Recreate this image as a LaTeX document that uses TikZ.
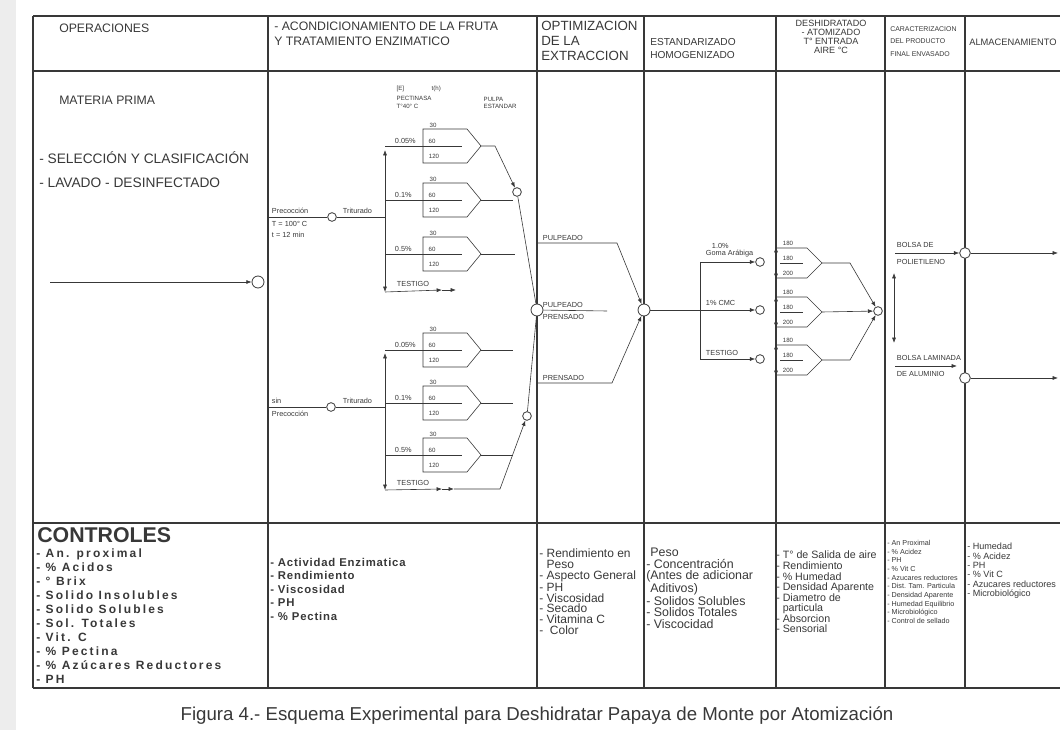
\documentclass[tikz,border=0pt]{standalone}
\usepackage{fontspec}
\setmainfont{Liberation Sans}
\newfontfamily\ctrlfont[LetterSpace=18]{Liberation Sans}
\newfontfamily\ctrlfontb[LetterSpace=7]{Liberation Sans}
\usetikzlibrary{arrows.meta}
\definecolor{ink}{gray}{0.22}

\begin{document}
\begin{tikzpicture}[x=0.75pt,y=0.75pt,yscale=-1,
  every node/.style={text=ink},
  frame/.style={draw=ink,line width=0.8pt},
  flow/.style={draw=ink,line width=0.45pt},
  arr/.style={flow,-{Latex[length=4pt,width=3pt]}},
  junc/.style={circle,draw=ink,fill=white,line width=0.6pt,inner sep=0pt,minimum size=8pt},
  smalljunc/.style={junc,minimum size=6.5pt},
  head/.style={anchor=north west,inner sep=0.75pt,align=left,font=\fontsize{9.2}{11.2}\selectfont},
  lbl/.style={anchor=west,inner sep=0.5pt,font=\fontsize{5.5}{6}\selectfont},
  num/.style={inner sep=0.3pt,font=\fontsize{4.6}{5}\selectfont},
  ctrl/.style={anchor=north west,inner sep=0pt,align=left}
]
\useasboundingbox (0,0) rectangle (1060,730);
%scanned page edge
\fill[black!7] (0,0) rectangle (16,730);

%Table frame
\foreach \ry in {16,71,523,688}
  \draw[frame] (33,\ry) -- (1060,\ry);
\foreach \cx in {33,268,537,644,776,885,965}
  \draw[frame] (\cx,16) -- (\cx,688);

% Header nodes
\node[head] (hop) at (58,23) {OPERACIONES};
\node[head] (hac) at (273,21) {- ACONDICIONAMIENTO DE LA FRUTA\\Y TRATAMIENTO ENZIMATICO};
\node[head,font=\fontsize{10}{11.2}\selectfont] (hopt) at (540,20) {OPTIMIZACION\\DE LA\\EXTRACCION};
\node[head,font=\fontsize{7.6}{9.8}\selectfont] (hest) at (649,37) {ESTANDARIZADO\\HOMOGENIZADO};
\node[head,anchor=north,align=center,font=\fontsize{6.8}{6.8}\selectfont] (hdes) at (831,19) {DESHIDRATADO\\- ATOMIZADO\\T° ENTRADA\\AIRE °C};
\node[head,font=\fontsize{5.2}{9.4}\selectfont] (hcar) at (889,25) {CARACTERIZACION\\DEL PRODUCTO\\FINAL ENVASADO};
\node[head,font=\fontsize{7}{8}\selectfont] (halm) at (968,38) {ALMACENAMIENTO};

% Operations column
\node[head] (hmp) at (58,95) {MATERIA PRIMA};
\node[head,font=\fontsize{10.3}{12}\selectfont] (hsel) at (38,150) {- SELECCIÓN Y CLASIFICACIÓN};
\node[head,font=\fontsize{10.3}{12}\selectfont] (hlav) at (38,177) {- LAVADO - DESINFECTADO};
\coordinate (mpin) at (50,282);
\node[junc,minimum size=9pt] (mp) at (258,282) {};
\draw[arr] (mpin) -- (mp);

% Enzymatic treatment: heading labels
\node[num,anchor=west] (le) at (396,89) {[E]};
\node[num,anchor=west] (lpec) at (396,98) {PECTINASA};
\node[num,anchor=west] (ltemp) at (396,106) {T°40° C};
\node[num,anchor=west] (lth) at (431,89) {t(h)};
\node[num,anchor=west] (lpul) at (483,99) {PULPA};
\node[num,anchor=west] (lest) at (483,106) {ESTANDAR};

% with precooking
\coordinate (pre1) at (268,217);
\node[smalljunc] (c1) at (332,217) {};
\coordinate (r1t) at (385,150);
\coordinate (r1b) at (385,292);
\draw[flow] (pre1) -- (c1);
\draw[flow] (c1) -- (c1 -| r1t);
\draw[flow,{Latex[length=4pt,width=3pt]}-{Latex[length=4pt,width=3pt]}] (r1t) -- (r1b);
\node[lbl] (lpre1) at (271,211) {Precocción};
\node[lbl] (lt1) at (271,224) {T = 100° C};
\node[lbl] (lt2) at (271,235) {t = 12 min};
\node[lbl] (ltri1) at (342,211) {Triturado};

% without precooking
\coordinate (pre2) at (268,407);
\node[smalljunc] (c2) at (331,407) {};
\coordinate (r2t) at (385,353);
\coordinate (r2b) at (385,490);
\draw[flow] (pre2) -- (c2);
\draw[flow] (c2) -- (c2 -| r2t);
\draw[flow,{Latex[length=4pt,width=3pt]}-{Latex[length=4pt,width=3pt]}] (r2t) -- (r2b);
\node[lbl] (lsin) at (271,401) {sin};
\node[lbl] (lpre2) at (271,414) {Precocción};
\node[lbl] (ltri2) at (342,401) {Triturado};

% enzyme doses, times 30 / 60 / 120
\foreach \yc/\pc/\n in {146/0.05/a,200/0.1/b,254/0.5/c,350/0.05/d,403/0.1/e,455/0.5/f}{
  \draw[flow] (423,\yc-17) -- (467,\yc-17) -- (481,\yc) -- (467,\yc+17) -- (423,\yc+17) -- cycle;
  \draw[flow] (385,\yc) -- (462,\yc);
  \coordinate (t\n) at (481,\yc);
  \node[lbl] (p\n) at (394,\yc-5) {\pc\%};
  \node[num] (h30\n) at (433,\yc-21) {30};
  \node[num] (h60\n) at (432,\yc-5) {60};
  \node[num] (h120\n) at (434,\yc+10) {120};
}

% controls without enzyme
\node[lbl] (lv1) at (396,284) {TESTIGO};
\draw[arr] (r1b) -- (442,290);
\draw[arr] (442,290) -- (456,290);
\node[lbl] (lv2) at (396,483) {TESTIGO};
\draw[arr] (r2b -| r2t) -- (442,489);
\draw[arr] (442,489) -- (454,489);

% collecting the pulp
\node[smalljunc] (m1) at (517,192) {};
\node[smalljunc] (m2) at (527,416) {};
\draw[arr] (ta) -- (495,146) -- (m1);
\draw[flow] (tb) -- (513,200);
\draw[flow] (tc) -- (515,254);
\draw[flow] (td) -- (513,350);
\draw[flow] (te) -- (513,403);
\draw[flow] (tf) -- (513,455);
\draw[arr] (454,489) -- (500,489) -- (m2);
\node[junc,minimum size=9pt] (cen) at (537,310) {};
\draw[flow] (m1) -- (cen);
\draw[flow] (m2) -- (cen);

% Extraction
\node[junc,minimum size=9pt] (ext) at (644,310) {};
\coordinate (pu1) at (537,243);
\coordinate (pr1) at (537,383);
\draw[arr] (pu1) -- (617,243) -- (ext);
\draw[flow] (cen) -- (607,311);
\draw[arr] (pr1) -- (612,383) -- (ext);
\node[lbl] (lpu1) at (542,238) {PULPEADO};
\node[lbl] (lpu2) at (542,305) {PULPEADO};
\node[lbl] (lpr2) at (542,317) {PRENSADO};
\node[lbl] (lpr1) at (542,378) {PRENSADO};

% Standardized, additives
\node[smalljunc] (s1) at (760,262) {};
\node[smalljunc] (s2) at (760,310) {};
\node[smalljunc] (s3) at (760,359) {};
\coordinate (k1) at (700,262);
\coordinate (k3) at (700,359);
\draw[flow] (k1) -- (k3);
\draw[arr] (ext) -- (s2);
\draw[arr] (k1) -- (s1);
\draw[arr] (k3) -- (s3);
\node[lbl] (la1) at (711,246) {1.0\%};
\node[lbl] (la2) at (705,254) {Goma Arábiga};
\node[lbl] (la3) at (705,303) {1\% CMC};
\node[lbl] (la4) at (705,353) {TESTIGO};

% Spray drying, inlet air 180 / 180 / 200
\foreach \yc/\n in {263/a,312/b,360/c}{
  \draw[flow] (776,\yc-15) -- (807,\yc-15) -- (822,\yc) -- (807,\yc+15) -- (776,\yc+15);
  \draw[flow] (780,\yc) -- (803,\yc);
  \draw[arr] (776,\yc-9) -- (776,\yc-16);
  \draw[arr] (776,\yc+9) -- (776,\yc+16);
  \coordinate (q\n) at (822,\yc);
  \node[num] (g1\n) at (788,\yc-20) {180};
  \node[num] (g2\n) at (788,\yc-5) {180};
  \node[num] (g3\n) at (788,\yc+10) {200};
}
\node[smalljunc] (dry) at (878,311) {};
\draw[arr] (qa) -- (850,263) -- (dry);
\draw[arr] (qb) -- (dry);
\draw[arr] (qc) -- (850,360) -- (dry);

% Packaging
\node[junc] (b1) at (965,253) {};
\node[junc] (b2) at (965,378) {};
\coordinate (w1) at (895,253);
\coordinate (w2) at (895,366);
\draw[flow,{Latex[length=4pt,width=3pt]}-{Latex[length=4pt,width=3pt]}] (894,273) -- (894,343);
\draw[arr] (w1) -- (b1);
\draw[arr] (w2) -- (957,366);
\node[lbl] (lb1) at (896,245) {BOLSA DE};
\node[lbl] (lb2) at (896,262) {POLIETILENO};
\node[lbl] (lb3) at (896,358) {BOLSA LAMINADA};
\node[lbl] (lb4) at (896,374) {DE ALUMINIO};

% Storage
\coordinate (o1) at (1058,253);
\coordinate (o2) at (1058,378);
\draw[arr] (b1) -- (o1);
\draw[arr] (b2) -- (o2);

% Controls row
\node[anchor=west,inner sep=0pt,font=\fontsize{16}{16}\bfseries] (ctl) at (37,535) {CONTROLES};
\node[ctrl,font=\fontsize{9}{10.5}\ctrlfont\bfseries] (ctl1) at (36,549) {- An. proximal\\- \% Acidos\\- ° Brix\\- Solido Insolubles\\- Solido Solubles\\- Sol. Totales\\- Vit. C\\- \% Pectina\\- \% Azúcares Reductores\\- PH};
\node[ctrl,font=\fontsize{8.5}{10.1}\ctrlfontb\bfseries] (ctl2) at (270,558) {- Actividad Enzimatica\\- Rendimiento\\- Viscosidad\\- PH\\- \% Pectina};
\node[ctrl,font=\fontsize{9}{8}\selectfont] (ctl3) at (539,549) {- Rendimiento en\\\phantom{- }Peso\\- Aspecto General\\- PH\\- Viscosidad\\- Secado\\- Vitamina C\\-\ \ Color};
\node[ctrl,font=\fontsize{9.3}{8.6}\selectfont] (ctl4) at (646,548) {\phantom{-}Peso\\- Concentración\\(Antes de adicionar\\\phantom{-}Aditivos)\\- Solidos Solubles\\- Solidos Totales\\- Viscocidad};
\node[ctrl,font=\fontsize{8}{7.9}\selectfont] (ctl5) at (776,551) {- T° de Salida de aire\\- Rendimiento\\- \% Humedad\\- Densidad Aparente\\- Diametro de\\\phantom{- }particula\\- Absorcion\\- Sensorial};
\node[ctrl,font=\fontsize{5.4}{6.5}\selectfont] (ctl6) at (887,540) {- An Proximal\\- \% Acidez\\- PH\\- \% Vit C\\- Azucares reductores\\- Dist. Tam. Particula\\- Densidad Aparente\\- Humedad Equilibrio\\- Microbiológico\\- Control de sellado};
\node[ctrl,font=\fontsize{6.8}{7}\selectfont] (ctl7) at (967,543) {- Humedad\\- \% Acidez\\- PH\\- \% Vit C\\- Azucares reductores\\- Microbiológico};

% Caption
\node[font=\fontsize{14}{16}\selectfont] (cap) at (537,716) {Figura 4.- Esquema Experimental para Deshidratar Papaya de Monte por Atomización};

\end{tikzpicture}
\end{document}
